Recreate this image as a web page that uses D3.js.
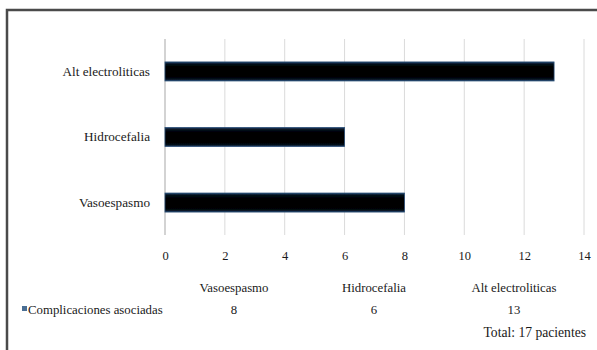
<!DOCTYPE html>
<html>
<head>
<meta charset="utf-8">
<script src="https://cdn.jsdelivr.net/npm/d3@7"></script>
<style>
  html, body { margin: 0; padding: 0; background: #fff; }
  svg { display: block; }
</style>
</head>
<body>
<svg id="chart" width="597" height="350"></svg>
<script>
// Complicaciones asociadas (total 17 pacientes)
const categories = ["Vasoespasmo", "Hidrocefalia", "Alt electroliticas"];
const values = [8, 6, 13];
const seriesName = "Complicaciones asociadas";
const xTicks = [0, 2, 4, 6, 8, 10, 12, 14];
const totalNote = "Total: 17 pacientes";

const SERIF = "Liberation Serif";
const INK = "#1a1a1a";
const svg = d3.select("#chart");

function serif(sel, size) {
  return sel.attr("font-family", null)
    .style("font-family", SERIF).style("font-size", size + "px").style("fill", INK);
}

// Outer frame (top and left rules)
svg.append("path")
  .attr("d", "M7,350 V10 H597")
  .attr("fill", "none")
  .attr("stroke", "#4a4a4a")
  .attr("stroke-width", 2.5);

const plot = { left: 165, right: 584, top: 39, bottom: 235 };

const x = d3.scaleLinear().domain([0, 14]).range([plot.left, plot.right]);
// First category sits at the bottom
const y = d3.scaleBand()
  .domain(categories.slice().reverse())
  .range([plot.top, plot.bottom])
  .paddingInner(0.71)
  .paddingOuter(0.35);

// Vertical gridlines
svg.append("g")
  .selectAll("line")
  .data(xTicks)
  .join("line")
  .attr("x1", d => x(d)).attr("x2", d => x(d))
  .attr("y1", plot.top).attr("y2", plot.bottom)
  .attr("stroke", d => d === 0 ? "#c4c4c4" : "#dadada")
  .attr("stroke-width", d => d === 0 ? 1.5 : 1);

// Tick labels
const xAxis = svg.append("g")
  .attr("transform", `translate(0,${plot.bottom})`)
  .call(d3.axisBottom(x).tickValues(xTicks).tickSize(0).tickPadding(16));
xAxis.select(".domain").remove();
xAxis.attr("font-family", SERIF);
serif(xAxis.selectAll("text"), 12.5);

// Bar shading: dark core with a navy rim
const defs = svg.append("defs");
const grad = defs.append("linearGradient")
  .attr("id", "barFill").attr("x1", 0).attr("y1", 0).attr("x2", 0).attr("y2", 1);
[["0%", "#1f4166"], ["12%", "#050d18"], ["28%", "#000"], ["78%", "#000"], ["90%", "#050d18"], ["100%", "#1f4166"]]
  .forEach(([o, c]) => grad.append("stop").attr("offset", o).attr("stop-color", c));
defs.append("filter").attr("id", "soft")
  .attr("x", "-5%").attr("y", "-30%").attr("width", "110%").attr("height", "160%")
  .append("feGaussianBlur").attr("stdDeviation", 0.7);

const data = categories.map((c, i) => ({ c, v: values[i] }));

svg.append("g")
  .selectAll("rect")
  .data(data)
  .join("rect")
  .attr("x", x(0))
  .attr("y", d => y(d.c))
  .attr("width", d => x(d.v) - x(0))
  .attr("height", y.bandwidth())
  .attr("fill", "url(#barFill)")
  .attr("stroke", "#284d75")
  .attr("stroke-width", 0.8)
  .attr("filter", "url(#soft)");

// Category labels
const yAxis = svg.append("g")
  .attr("transform", `translate(${plot.left},0)`)
  .call(d3.axisLeft(y).tickSize(0).tickPadding(15));
yAxis.select(".domain").remove();
yAxis.attr("font-family", SERIF);
serif(yAxis.selectAll("text"), 13.2);

// Data table under the axis
const colX = d3.scalePoint().domain(categories).range([234, 514]);
const table = svg.append("g").attr("font-family", SERIF);
serif(table.selectAll("text.head")
  .data(data)
  .join("text")
  .attr("class", "head")
  .attr("x", d => colX(d.c))
  .attr("y", 292)
  .attr("text-anchor", "middle")
  .text(d => d.c), 12.8);
serif(table.selectAll("text.val")
  .data(data)
  .join("text")
  .attr("class", "val")
  .attr("x", d => colX(d.c))
  .attr("y", 314)
  .attr("text-anchor", "middle")
  .text(d => d.v), 12.8);

// Series key
svg.append("rect")
  .attr("x", 22).attr("y", 306).attr("width", 5).attr("height", 5)
  .attr("fill", "#4a6f94");
serif(svg.append("text")
  .attr("x", 28).attr("y", 314)
  .text(seriesName), 12.8);

serif(svg.append("text")
  .attr("x", 586).attr("y", 337)
  .attr("text-anchor", "end")
  .text(totalNote), 13.6);
</script>
</body>
</html>
